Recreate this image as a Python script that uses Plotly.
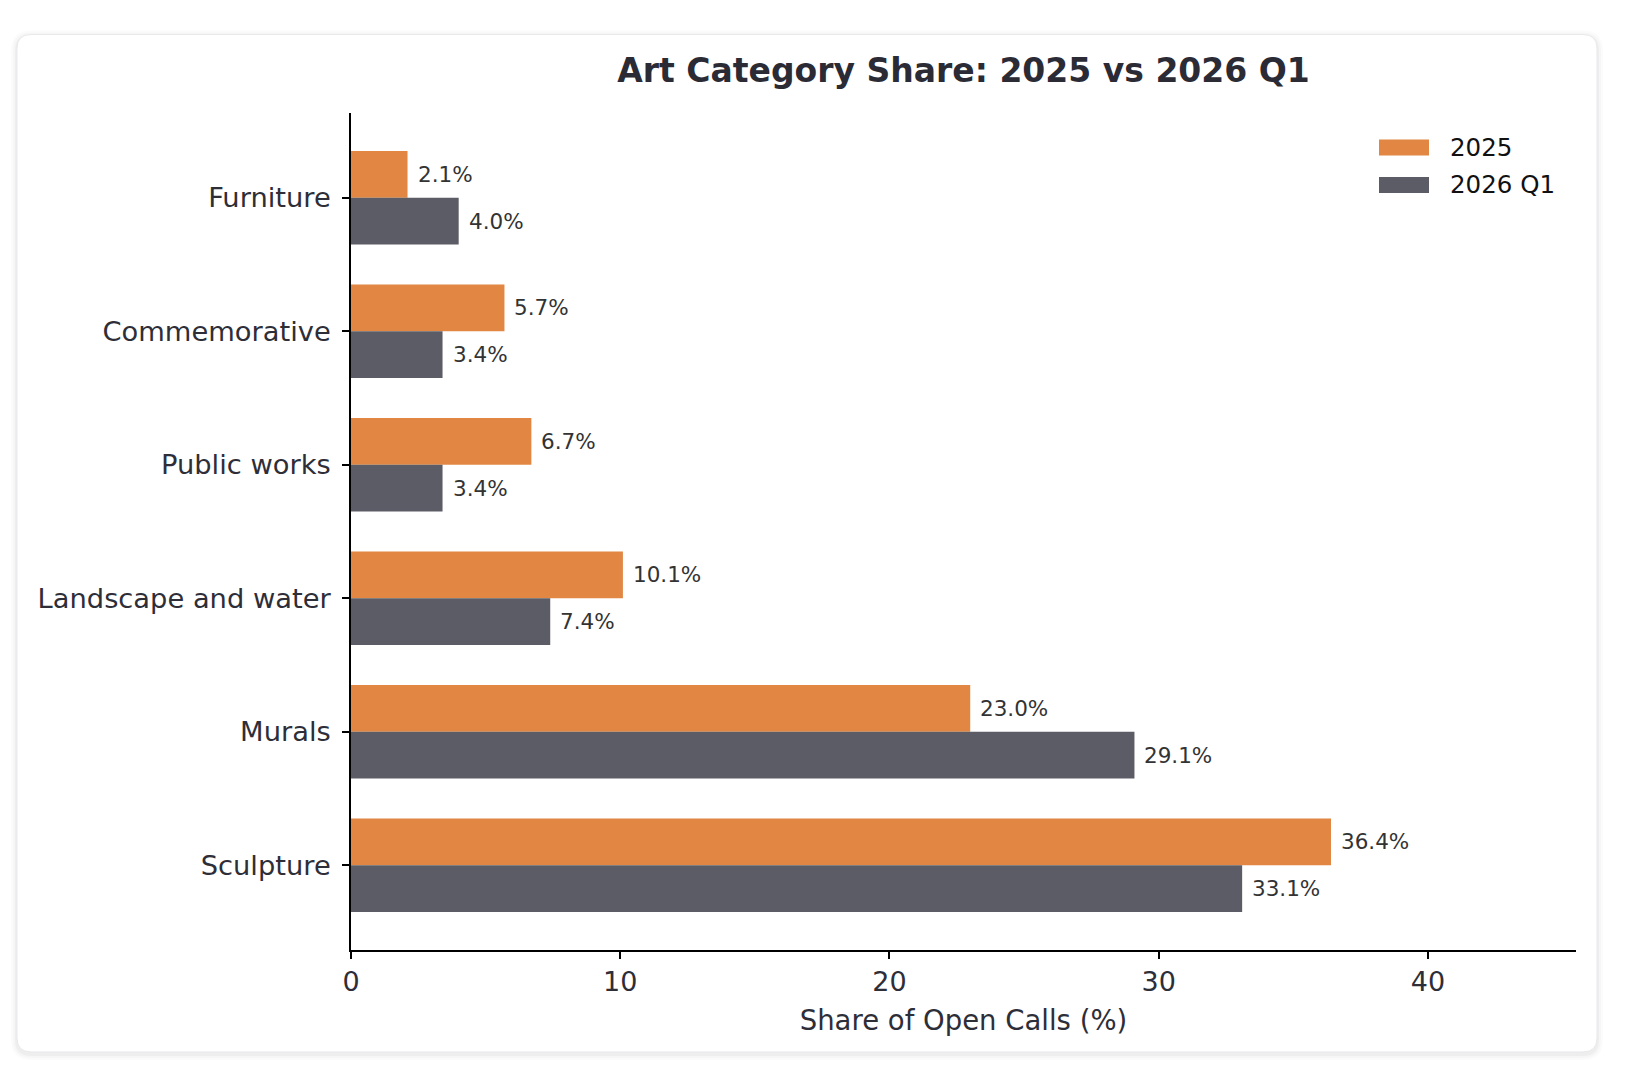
import plotly.graph_objects as go

# ---- data ----
categories = ["Sculpture", "Murals", "Landscape and water", "Public works", "Commemorative", "Furniture"]
share_2025 = [36.4, 23.0, 10.1, 6.7, 5.7, 2.1]
share_2026q1 = [33.1, 29.1, 7.4, 3.4, 3.4, 4.0]
series_names = ["2025", "2026 Q1"]
series_values = [share_2025, share_2026q1]
series_colors = ["#E28743", "#5C5C66"]
x_ticks = [0, 10, 20, 30, 40]

# ---- layout geometry (pixels) ----
W, H = 1634, 1076
PL, PR, PT, PB = 351, 1576, 112.5, 950
pw, ph = PR - PL, PB - PT
FONT = "DejaVu Sans"
TXT = "#2e2e38"
BAR_W = 0.35


def px_x(X):
    return (X - PL) / pw


def px_y(Y):
    return (PB - Y) / ph


def rounded_path(X0, Y0, X1, Y1, r):
    rx, ry = r / pw, r / ph
    x0, x1 = px_x(X0), px_x(X1)
    yt, yb = px_y(Y0), px_y(Y1)
    return (f"M{x0+rx},{yt} L{x1-rx},{yt} Q{x1},{yt} {x1},{yt-ry} "
            f"L{x1},{yb+ry} Q{x1},{yb} {x1-rx},{yb} L{x0+rx},{yb} "
            f"Q{x0},{yb} {x0},{yb+ry} L{x0},{yt-ry} Q{x0},{yt} {x0+rx},{yt} Z")


positions = list(range(len(categories)))
offsets = [0.0, -BAR_W]  # 2025 above the category centre, 2026 Q1 below

fig = go.Figure()
annotations = []
for name, vals, col, off in zip(series_names, series_values, series_colors, offsets):
    fig.add_trace(go.Bar(
        y=positions, x=vals, orientation="h", name=name,
        marker=dict(color=col, line=dict(width=0)),
        width=BAR_W, offset=off, showlegend=False,
        hovertemplate="%{x:.1f}%<extra>" + name + "</extra>",
    ))
    for p, v in zip(positions, vals):
        annotations.append(dict(
            x=v, y=p + off + BAR_W / 2, xref="x", yref="y",
            text=f"{v:.1f}%", showarrow=False, xanchor="left", yanchor="middle",
            xshift=8, yshift=0, font=dict(family=FONT, size=21.5, color="#333333"),
        ))

shapes = []
# card shadow + card
for grow, alpha in [(6, 0.015), (4, 0.02), (2, 0.03)]:
    shapes.append(dict(type="path", xref="paper", yref="paper",
                       path=rounded_path(17 - grow, 34 - grow + 2, 1597 + grow, 1052 + grow + 2, 14 + grow),
                       fillcolor=f"rgba(0,0,0,{alpha})", line=dict(width=0), layer="below"))
shapes.append(dict(type="path", xref="paper", yref="paper",
                   path=rounded_path(17, 34, 1597, 1052, 14),
                   fillcolor="#ffffff", line=dict(color="#e9e9ec", width=1), layer="below"))

# custom legend (wide patches like the reference)
for i, (name, col) in enumerate(zip(series_names, series_colors)):
    yc = 147 + i * 37.5
    shapes.append(dict(type="rect", xref="paper", yref="paper",
                       x0=px_x(1379), x1=px_x(1429), y0=px_y(yc - 8), y1=px_y(yc + 8),
                       fillcolor=col, line=dict(width=0)))
    annotations.append(dict(x=px_x(1448), y=px_y(yc), xref="paper", yref="paper",
                            text=name, showarrow=False, xanchor="left", yanchor="middle",
                            font=dict(family=FONT, size=24.5, color="#111111")))

fig.update_layout(
    width=W, height=H,
    margin=dict(l=PL, r=W - PR, t=PT, b=H - PB, pad=0),
    paper_bgcolor="#ffffff", plot_bgcolor="rgba(0,0,0,0)",
    font=dict(family=FONT, color=TXT),
    title=dict(text="<b>Art Category Share: 2025 vs 2026 Q1</b>",
               x=0.5, xref="paper", xanchor="center",
               y=1 - 70 / H, yref="container", yanchor="middle",
               font=dict(family=FONT, size=33, color="#2b2b35")),
    barmode="overlay",
    shapes=shapes, annotations=annotations,
    xaxis=dict(range=[0, 45.5], tickvals=x_ticks, showgrid=False, zeroline=False,
               showline=True, linecolor="#000000", linewidth=1.7,
               ticks="outside", ticklen=7, tickwidth=1.5, tickcolor="#000000",
               tickfont=dict(family=FONT, size=27, color=TXT),
               title=dict(text="Share of Open Calls (%)", standoff=14,
                          font=dict(family=FONT, size=27.5, color=TXT))),
    yaxis=dict(range=[-0.635, 5.635], tickvals=positions, ticktext=categories,
               showgrid=False, zeroline=False,
               showline=True, linecolor="#000000", linewidth=1.7,
               ticks="outside", ticklen=7, tickwidth=1.5, tickcolor="#000000",
               ticklabelstandoff=6,
               tickfont=dict(family=FONT, size=27.3, color=TXT)),
)

fig.write_html("out.html")
